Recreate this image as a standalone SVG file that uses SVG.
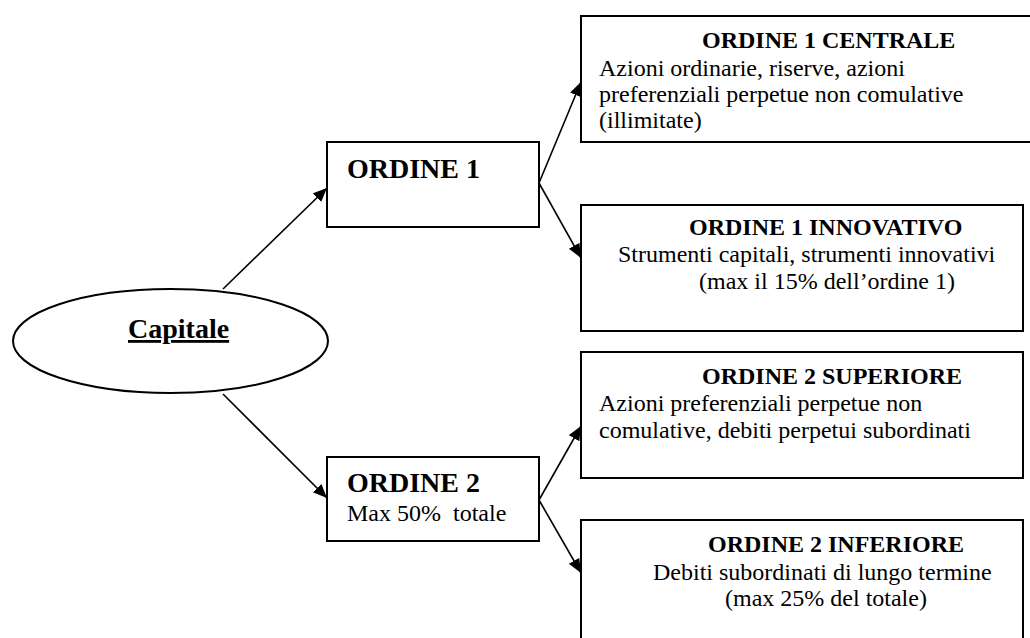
<svg xmlns="http://www.w3.org/2000/svg" width="1030" height="638" viewBox="0 0 1030 638">
<style>
.box{fill:#fff;stroke:#000;stroke-width:2}
.conn{stroke:#000;stroke-width:1.6;fill:none}
.t{font-family:"Liberation Serif","Times New Roman",serif;fill:#000}
.b{font-weight:bold}
.s24{font-size:24px}
.s28{font-size:28px}
</style>
<defs>
<marker id="ah" markerUnits="userSpaceOnUse" markerWidth="16" markerHeight="14" refX="14" refY="6" orient="auto">
<path d="M0,0 L14,6 L0,12 Z" fill="#000"/>
</marker>
</defs>
<rect width="1030" height="638" fill="#fff"/>
<g id="connectors">
<line class="conn" x1="223" y1="289" x2="327" y2="188" marker-end="url(#ah)"/>
<line class="conn" x1="223" y1="394" x2="327" y2="498" marker-end="url(#ah)"/>
<line class="conn" x1="539" y1="183" x2="581" y2="82" marker-end="url(#ah)"/>
<line class="conn" x1="539" y1="183" x2="581" y2="258" marker-end="url(#ah)"/>
<line class="conn" x1="539" y1="500" x2="581" y2="426" marker-end="url(#ah)"/>
<line class="conn" x1="539" y1="500" x2="581" y2="573" marker-end="url(#ah)"/>
</g>
<g id="capitale">
<ellipse class="box" cx="170.5" cy="341" rx="157.5" ry="52"/>
<text class="t b s28" x="128" y="338" text-decoration="underline">Capitale</text>
</g>
<g id="ordine1">
<rect class="box" x="327" y="142" width="212" height="85"/>
<text class="t b s28" x="347" y="178">ORDINE 1</text>
</g>
<g id="ordine2">
<rect class="box" x="327" y="457" width="212" height="84"/>
<text class="t b s28" x="347" y="492">ORDINE 2</text>
<text class="t s24" x="347" y="521" xml:space="preserve">Max 50%  totale</text>
</g>
<g id="ordine1-centrale">
<rect class="box" x="581" y="16" width="460" height="126"/>
<text class="t b s24" x="702" y="48">ORDINE 1 CENTRALE</text>
<text class="t s24" x="599" y="76">Azioni ordinarie, riserve, azioni</text>
<text class="t s24" x="599" y="102">preferenziali perpetue non comulative</text>
<text class="t s24" x="599" y="128">(illimitate)</text>
</g>
<g id="ordine1-innovativo">
<rect class="box" x="581" y="205" width="442" height="126"/>
<text class="t b s24" x="689" y="235">ORDINE 1 INNOVATIVO</text>
<text class="t s24" x="618" y="262">Strumenti capitali, strumenti innovativi</text>
<text class="t s24" x="699" y="289">(max il 15% dell’ordine 1)</text>
</g>
<g id="ordine2-superiore">
<rect class="box" x="581" y="352" width="442" height="126"/>
<text class="t b s24" x="702" y="384">ORDINE 2 SUPERIORE</text>
<text class="t s24" x="599" y="411">Azioni preferenziali perpetue non</text>
<text class="t s24" x="599" y="438">comulative, debiti perpetui subordinati</text>
</g>
<g id="ordine2-inferiore">
<rect class="box" x="581" y="520" width="442" height="130"/>
<text class="t b s24" x="708" y="552">ORDINE 2 INFERIORE</text>
<text class="t s24" x="653" y="580">Debiti subordinati di lungo termine</text>
<text class="t s24" x="725" y="606">(max 25% del totale)</text>
</g>
</svg>
